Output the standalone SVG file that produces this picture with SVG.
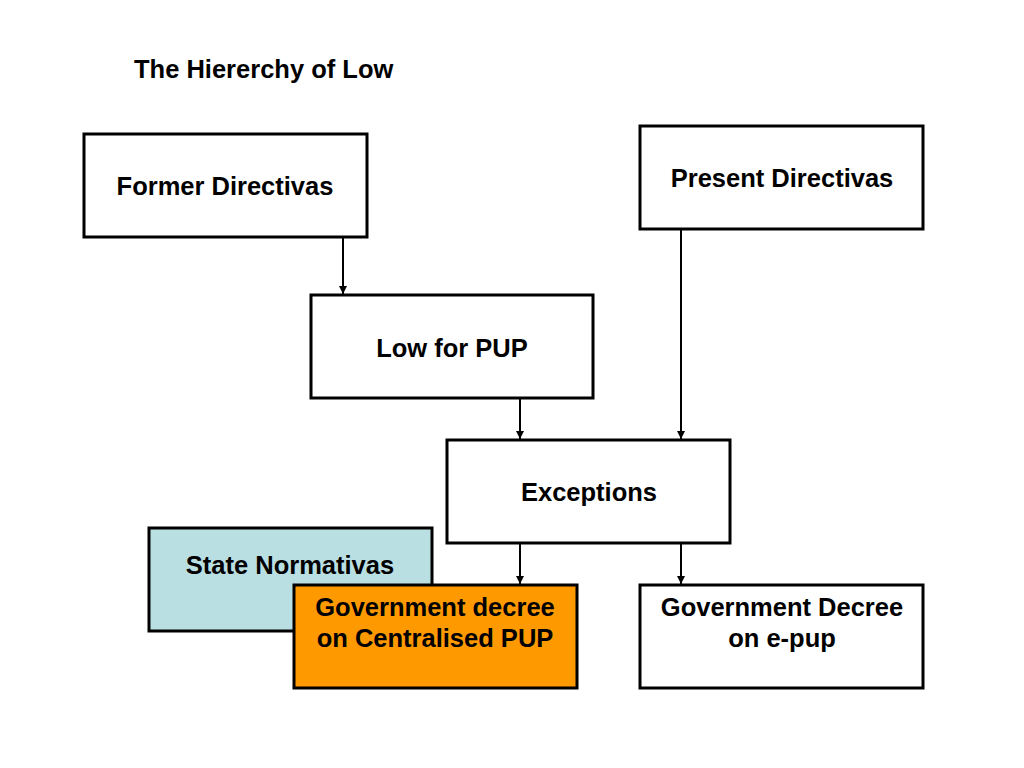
<svg xmlns="http://www.w3.org/2000/svg" width="1024" height="768" viewBox="0 0 1024 768">
<defs>
<style>
.box{stroke:#000;stroke-width:3;fill:#fff}
.t{font-family:"Liberation Sans",Arial,sans-serif;font-weight:bold;font-size:25.5px;fill:#000;text-anchor:middle}
.c{stroke:#000;stroke-width:2;fill:none}
</style>
<marker id="ah" markerWidth="10" markerHeight="10" refX="8" refY="5" orient="auto" markerUnits="userSpaceOnUse">
<path d="M0,1 L8,5 L0,9 Z" fill="#000"/>
</marker>
</defs>
<rect width="1024" height="768" fill="#fff"/>
<text x="134" y="78" class="t" style="text-anchor:start">The Hiererchy of Low</text>
<g id="connectors">
<line class="c" x1="343" y1="238" x2="343" y2="294" marker-end="url(#ah)"/>
<line class="c" x1="681" y1="230" x2="681" y2="439" marker-end="url(#ah)"/>
<line class="c" x1="520" y1="399" x2="520" y2="439" marker-end="url(#ah)"/>
<line class="c" x1="520" y1="544" x2="520" y2="584" marker-end="url(#ah)"/>
<line class="c" x1="681" y1="544" x2="681" y2="584" marker-end="url(#ah)"/>
</g>
<g id="former">
<rect class="box" x="84" y="134" width="283" height="103"/>
<text class="t" x="225" y="195">Former Directivas</text>
</g>
<g id="present">
<rect class="box" x="640" y="126" width="283" height="103"/>
<text class="t" x="782" y="187">Present Directivas</text>
</g>
<g id="lowpup">
<rect class="box" x="311" y="295" width="282" height="103"/>
<text class="t" x="452" y="357">Low for PUP</text>
</g>
<g id="exceptions">
<rect class="box" x="447" y="440" width="283" height="103"/>
<text class="t" x="589" y="501">Exceptions</text>
</g>
<g id="state">
<rect class="box" x="149" y="528" width="283" height="103" style="fill:#badfe2"/>
<text class="t" x="290" y="574">State Normativas</text>
</g>
<g id="centralised">
<rect class="box" x="294" y="585" width="283" height="103" style="fill:#ff9900"/>
<text class="t" x="435" y="616">Government decree</text>
<text class="t" x="435" y="647">on Centralised PUP</text>
</g>
<g id="epup">
<rect class="box" x="640" y="585" width="283" height="103"/>
<text class="t" x="782" y="616">Government Decree</text>
<text class="t" x="782" y="647">on e-pup</text>
</g>
</svg>
